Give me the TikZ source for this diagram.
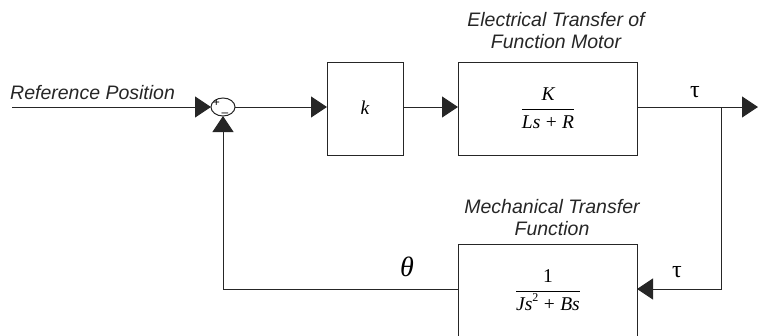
\documentclass[tikz,border=0pt]{standalone}
\usepackage{fontspec}
\setmainfont{Liberation Sans}
\newfontfamily\tms{Liberation Serif}
\usetikzlibrary{arrows.meta,shapes.geometric}
\newcommand{\ti}[1]{{\tms\itshape #1}}
\newcommand{\tu}[1]{{\tms #1}}
\begin{document}
\begin{tikzpicture}[x=1pt,y=-1pt,
  blk/.style={draw=black!85, line width=1pt, inner sep=0pt, outer sep=0pt},
  lbl/.style={font=\fontsize{19.5}{22}\selectfont\itshape, align=center, inner sep=0pt, text=black!85},
  sig/.style={draw=black!85, line width=1pt},
  arr/.style={sig, -{Triangle[length=16pt,width=21pt]}},
  fr/.style={font=\fontsize{19.5}{22}\selectfont, inner sep=0pt},
  pm/.style={font=\fontsize{12}{12}\selectfont, inner sep=0pt},
  sym/.style={inner sep=0pt}]
\useasboundingbox (0,0) rectangle (758,335);
\clip (0,0) rectangle (758,335);
% blocks
\node[ellipse, blk, minimum width=24pt, minimum height=18pt] (sum) at (223,107) {};
\node[pm, text height=7pt, text depth=0pt, anchor=base] (plus) at (216.5,106.5) {+};
\node[pm, text height=1pt, text depth=0pt, anchor=base] (minus) at (225,116) {–};
\node[blk, minimum width=76pt, minimum height=93pt] (k) at (365,108.5) {};
\node[fr] (kt) at (365,108) {\ti{k}};
\node[blk, minimum width=179pt, minimum height=93pt] (elec) at (547.5,108.5) {};
\node[fr] (et) at (548,108) {$\displaystyle\frac{\hbox{\ti{K}}}{\hbox{\ti{Ls} \tu{+} \ti{R}}}$};
\node[blk, minimum width=179pt, minimum height=110pt, anchor=north] (mech) at (547.5,244) {};
\node[fr] (mt) at (548,290) {$\displaystyle\frac{\hbox{\tu{1}}}{\hbox{\ti{Js}\raisebox{0.45em}{\fontsize{12}{12}\selectfont\tu{2}} \tu{+} \ti{Bs}}}$};
% labels
\node[lbl, anchor=west] (refl) at (10,93) {Reference Position};
\node[lbl] (el) at (556,31) {Electrical Transfer of\\Function Motor};
\node[lbl] (ml) at (552,218) {Mechanical Transfer\\Function};
\node[sym, font=\fontsize{24}{26}\selectfont] (tau1) at (695,92) {\tu{τ}};
\node[sym, font=\fontsize{24}{26}\selectfont] (tau2) at (677,272) {\tu{τ}};
\node[sym, font=\fontsize{28}{30}\selectfont] (th) at (407,267) {\ti{θ}};
% connectors
\coordinate (in) at (12,107);
\coordinate (out) at (758,107);
\coordinate (br) at (721,107);
\coordinate (fbr) at (721,289);
\coordinate (fbl) at (223,289);
\draw[arr] (in) -- (sum.west);
\draw[arr] (sum.east) -- (k.west |- sum.east);
\draw[arr] (k.east |- sum.east) -- (elec.west |- sum.east);
\draw[arr] (elec.east |- sum.east) -- (out);
\draw[arr] (br) -- (fbr) -- (mech.east |- fbr);
\draw[arr] (mech.west |- fbr) -- (fbl) -- (sum.south);
\end{tikzpicture}
\end{document}
